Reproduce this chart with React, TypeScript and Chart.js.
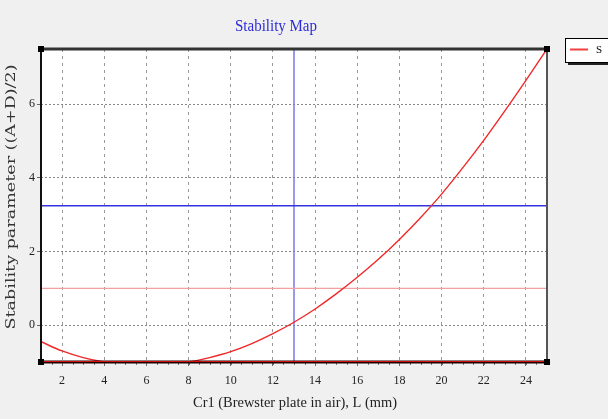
import React, { useEffect, useRef } from "react";
import { Chart, registerables } from "chart.js";

Chart.register(...registerables);

const xValues = [1, 2, 3, 4, 5, 6, 7, 8, 9, 10, 11, 12, 13, 14, 15, 16, 17, 18, 19, 20, 21, 22, 23, 24, 25];
const sValues = [-0.45, -0.7, -0.88, -1.0, -1.07, -1.1, -1.07, -1.0, -0.88, -0.72, -0.5, -0.23, 0.08, 0.44, 0.85, 1.3, 1.79, 2.33, 2.92, 3.56, 4.27, 5.02, 5.82, 6.65, 7.5];
const xTicks = [2, 4, 6, 8, 10, 12, 14, 16, 18, 20, 22, 24];
const yTicks = [0, 2, 4, 6];
const xRange = [1, 25];
const yRange = [-1, 7.5];
const blueLevel = 3.24;
const pinkLevel = 1;
const verticalAt = 13;
const minorStep = 0.5;

const titleText = "Stability Map";
const xTitle = "Cr1 (Brewster plate in air), L (mm)";
const yTitle = "Stability parameter ((A+D)/2)";
const legendLabel = "S";

function drawFitted(ctx: CanvasRenderingContext2D, text: string, cx: number, cy: number, w: number, font: string, color: string, rot = 0) {
  ctx.save();
  ctx.font = font;
  ctx.fillStyle = color;
  ctx.textAlign = "center";
  ctx.textBaseline = "middle";
  const m = ctx.measureText(text).width;
  ctx.translate(cx, cy);
  if (rot) ctx.rotate(rot);
  ctx.scale(w / m, 1);
  ctx.fillText(text, 0, 0);
  ctx.restore();
}

const decor = {
  id: "decor",
  beforeDraw(chart: any) {
    const { ctx, chartArea: a } = chart;
    ctx.save();
    ctx.fillStyle = "#f0f0f0";
    ctx.fillRect(0, 0, chart.width, chart.height);
    ctx.fillStyle = "#ffffff";
    ctx.fillRect(a.left, a.top, a.right - a.left, a.bottom - a.top);
    ctx.restore();
  },
  afterDraw(chart: any) {
    const { ctx, chartArea: a } = chart;
    const xs = chart.scales.x;
    ctx.save();
    // minor ticks
    ctx.strokeStyle = "#777";
    ctx.lineWidth = 1;
    for (let v = xRange[0]; v <= xRange[1] + 1e-9; v += minorStep) {
      const px = Math.round(xs.getPixelForValue(v)) + 0.5;
      ctx.beginPath();
      ctx.moveTo(px, a.bottom);
      ctx.lineTo(px, a.bottom + 3);
      ctx.stroke();
    }
    // borders
    ctx.strokeStyle = "#555";
    ctx.lineWidth = 2;
    ctx.beginPath();
    ctx.moveTo(a.right, a.top);
    ctx.lineTo(a.right, a.bottom);
    ctx.stroke();
    ctx.strokeStyle = "#111";
    ctx.beginPath();
    ctx.moveTo(a.left, a.top);
    ctx.lineTo(a.left, a.bottom);
    ctx.stroke();
    ctx.lineWidth = 3;
    ctx.strokeStyle = "#333";
    ctx.beginPath();
    ctx.moveTo(a.left, a.top);
    ctx.lineTo(a.right, a.top);
    ctx.stroke();
    ctx.strokeStyle = "#220000";
    ctx.beginPath();
    ctx.moveTo(a.left, a.bottom);
    ctx.lineTo(a.right, a.bottom);
    ctx.stroke();
    ctx.strokeStyle = "#cc1010";
    ctx.lineWidth = 1;
    ctx.beginPath();
    ctx.moveTo(a.left, a.bottom - 0.5);
    ctx.lineTo(a.right, a.bottom - 0.5);
    ctx.stroke();
    // corner squares
    ctx.fillStyle = "#000";
    for (const [px, py] of [[a.left, a.top], [a.right, a.top], [a.left, a.bottom], [a.right, a.bottom]]) {
      ctx.fillRect(px - 3, py - 3, 6, 6);
    }
    // legend
    const lx = 565, ly = 38, lw = 50, lh = 24;
    ctx.fillStyle = "#222";
    ctx.fillRect(lx + 3, ly + 3, lw, lh);
    ctx.fillStyle = "#fff";
    ctx.fillRect(lx, ly, lw, lh);
    ctx.strokeStyle = "#000";
    ctx.lineWidth = 1;
    ctx.strokeRect(lx + 0.5, ly + 0.5, lw, lh);
    ctx.strokeStyle = "#f04040";
    ctx.lineWidth = 2;
    ctx.beginPath();
    ctx.moveTo(570, 49.5);
    ctx.lineTo(588, 49.5);
    ctx.stroke();
    ctx.fillStyle = "#000";
    ctx.font = "11px 'Liberation Serif'";
    ctx.textAlign = "left";
    ctx.textBaseline = "middle";
    ctx.fillText(legendLabel, 596, 50);
    ctx.restore();
    // texts
    drawFitted(ctx, titleText, 276, 27, 82, "16px 'Liberation Serif'", "#2b2bd8");
    drawFitted(ctx, xTitle, 295, 403, 204, "15px 'Liberation Serif'", "#222");
    drawFitted(ctx, yTitle, 12, 197, 265, "13px 'DejaVu Serif'", "#333", -Math.PI / 2);
  },
};

export default function App() {
  const ref = useRef<HTMLCanvasElement>(null);
  useEffect(() => {
    document.body.style.margin = "0";
    const canvas = ref.current;
    if (!canvas) return;
    const chart = new Chart(canvas, {
      type: "line",
      data: {
        datasets: [
          {
            label: "S",
            data: xValues.map((x, i) => ({ x, y: sValues[i] })),
            borderColor: "#f02828",
            borderWidth: 1.4,
            pointRadius: 0,
            tension: 0.35,
            fill: false,
          },
          {
            label: "blue",
            data: [{ x: xRange[0], y: blueLevel }, { x: xRange[1], y: blueLevel }],
            borderColor: "#3535e0",
            borderWidth: 1.5,
            pointRadius: 0,
          },
          {
            label: "pink",
            data: [{ x: xRange[0], y: pinkLevel }, { x: xRange[1], y: pinkLevel }],
            borderColor: "#f2a0a0",
            borderWidth: 1.2,
            pointRadius: 0,
          },
          {
            label: "vert",
            data: [{ x: verticalAt, y: yRange[0] }, { x: verticalAt, y: yRange[1] }],
            borderColor: "#7878e6",
            borderWidth: 1.5,
            pointRadius: 0,
          },
        ],
      },
      options: {
        animation: false,
        responsive: false,
        layout: { padding: { top: 49, right: 61, left: 0, bottom: 0 } },
        plugins: { legend: { display: false }, title: { display: false }, tooltip: { enabled: false } },
        scales: {
          x: {
            type: "linear",
            min: xRange[0],
            max: xRange[1],
            afterBuildTicks: (s: any) => {
              s.ticks = xTicks.map((v) => ({ value: v }));
            },
            afterFit: (s: any) => {
              s.height = 57;
            },
            border: { display: false, dash: [3, 4] },
            grid: {
              color: "#999",
              tickBorderDash: [],
              tickLength: 4,
              tickColor: "#666",
            },
            ticks: {
              padding: 8,
              color: "#222",
              font: { family: "'Liberation Serif'", size: 12 },
              maxRotation: 0,
              autoSkip: false,
            },
          },
          y: {
            type: "linear",
            min: yRange[0],
            max: yRange[1],
            afterBuildTicks: (s: any) => {
              s.ticks = yTicks.map((v) => ({ value: v }));
            },
            afterFit: (s: any) => {
              s.width = 41;
            },
            border: { display: false, dash: [2, 2] },
            grid: {
              color: "#888",
              tickBorderDash: [],
              tickLength: 4,
              tickColor: "#666",
            },
            ticks: {
              padding: 2,
              color: "#222",
              font: { family: "'Liberation Serif'", size: 12 },
            },
          },
        },
      },
      plugins: [decor],
    } as any);
    return () => chart.destroy();
  }, []);
  return (
    <div style={{ width: 608, height: 419 }}>
      <canvas ref={ref} width={608} height={419} style={{ display: "block" }} />
    </div>
  );
}
